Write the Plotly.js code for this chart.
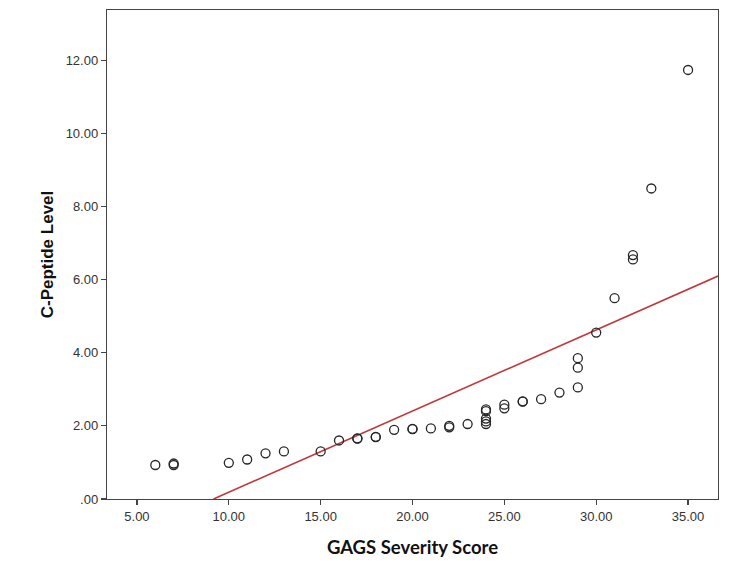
<!DOCTYPE html>
<html>
<head>
<meta charset="utf-8">
<script src="https://cdn.plot.ly/plotly-3.0.1.min.js"></script>
<style>html,body{margin:0;padding:0;background:#fff;}#chart{width:750px;height:569px;}</style>
</head>
<body>
<div id="chart"></div>
<script>
// GAGS severity score (x) and C-Peptide level (y)
const gagsScore = [6, 7, 7, 10, 11, 12, 13, 15, 16, 17, 17, 18, 18, 19, 20, 20, 21, 22, 22, 23,
  24, 24, 24, 24, 24, 25, 25, 26, 26, 27, 28, 29, 29, 29, 30, 31, 32, 32, 33, 35];
const cPeptide = [0.93, 0.97, 0.93, 0.99, 1.08, 1.25, 1.30, 1.30, 1.60, 1.65, 1.66, 1.69, 1.70, 1.89, 1.91, 1.92, 1.93, 1.96, 2.00, 2.05,
  2.45, 2.40, 2.20, 2.12, 2.05, 2.58, 2.48, 2.67, 2.66, 2.73, 2.91, 3.05, 3.59, 3.85, 4.55, 5.49, 6.67, 6.55, 8.49, 11.73];

const xTickVals = [5, 10, 15, 20, 25, 30, 35];
const xTickText = ["5.00", "10.00", "15.00", "20.00", "25.00", "30.00", "35.00"];
const yTickVals = [0, 2, 4, 6, 8, 10, 12];
const yTickText = [".00", "2.00", "4.00", "6.00", "8.00", "10.00", "12.00"];

const xRange = [3.37, 36.63];
const yRange = [0, 13.37];

// ordinary least squares fit line
const n = gagsScore.length;
const mx = gagsScore.reduce((a, b) => a + b, 0) / n;
const my = cPeptide.reduce((a, b) => a + b, 0) / n;
let sxy = 0, sxx = 0;
for (let i = 0; i < n; i++) {
  sxy += (gagsScore[i] - mx) * (cPeptide[i] - my);
  sxx += (gagsScore[i] - mx) * (gagsScore[i] - mx);
}
const slope = sxy / sxx;
const intercept = my - slope * mx;
const x0 = Math.max(xRange[0], -intercept / slope);
const fitX = [x0, xRange[1]];
const fitY = fitX.map(v => intercept + slope * v);

const data = [
  {
    x: fitX, y: fitY, type: 'scatter', mode: 'lines',
    line: {color: '#c0393b', width: 1.6},
    hoverinfo: 'skip', showlegend: false
  },
  {
    x: gagsScore, y: cPeptide, type: 'scatter', mode: 'markers',
    marker: {symbol: 'circle-open', size: 9, color: '#262626', line: {width: 1.3, color: '#262626'}},
    showlegend: false
  }
];

const axisCommon = {
  showline: true, linecolor: '#444', linewidth: 1.2, mirror: true,
  showgrid: false, zeroline: false,
  ticks: 'outside', ticklen: 5, tickcolor: '#444', tickwidth: 1.2,
  tickfont: {family: 'Arial', size: 13, color: '#333'},
  tickmode: 'array'
};

const layout = {
  width: 750, height: 569,
  paper_bgcolor: '#fff', plot_bgcolor: '#fff',
  margin: {l: 107, r: 32, t: 10, b: 70},
  xaxis: Object.assign({}, axisCommon, {
    range: xRange, tickvals: xTickVals, ticktext: xTickText,
    title: {text: 'GAGS Severity Score', standoff: 18,
      font: {family: 'Lato', size: 18.5, color: '#111', weight: 'bold'}}
  }),
  yaxis: Object.assign({}, axisCommon, {
    range: yRange, tickvals: yTickVals, ticktext: yTickText,
    title: {text: 'C-Peptide Level', standoff: 7,
      font: {family: 'Arial', size: 17, color: '#111', weight: 'bold'}}
  })
};

Plotly.newPlot('chart', data, layout, {displayModeBar: false, staticPlot: true});
</script>
</body>
</html>
